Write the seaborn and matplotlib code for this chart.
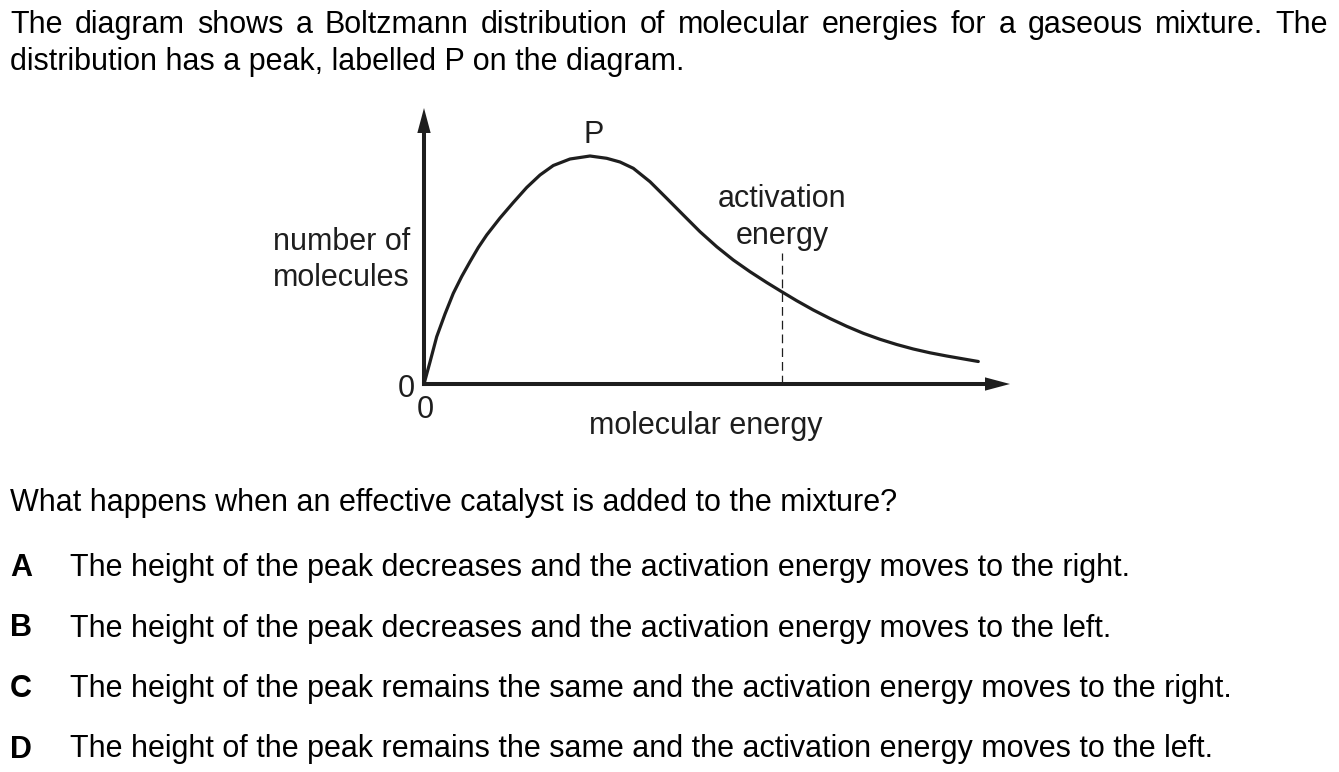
import numpy as np
import pandas as pd
import matplotlib
matplotlib.use('Agg')
import matplotlib.pyplot as plt
import seaborn as sns

# curve (energy / number of molecules, diagram pixel units)
energy = [0, 6.0, 12.7, 21.0, 29.3, 37.7, 46.0, 54.3, 62.7, 76.0, 89.3, 102.7,
          116.0, 129.3, 146.0, 166.0, 182.7, 196.0, 209.3, 226.0, 242.7, 259.3,
          276.0, 292.7, 309.3, 326.0, 342.7, 357.7, 372.7, 389.3, 406.0, 422.7,
          439.3, 456.0, 472.7, 489.3, 506.0, 522.7, 539.3, 554.3]
molecules = [0, 22.0, 47.3, 70.0, 90.7, 107.5, 122.3, 136.5, 149.0, 166.0, 181.5, 196.5,
             209.0, 218.5, 225.0, 228.0, 225.7, 222.0, 215.7, 202.3, 185.7, 169.0,
             152.3, 137.3, 124.0, 112.3, 101.5, 92.3, 83.3, 74.0, 65.5, 57.7,
             50.7, 44.7, 39.5, 35.0, 31.2, 28.0, 25.1, 22.5]
ea_energy = 357.7
ea_top = 131

header = ["The diagram shows a Boltzmann distribution of molecular energies for a gaseous mixture. The",
          "distribution has a peak, labelled P on the diagram."]
question = "What happens when an effective catalyst is added to the mixture?"
letters = ["A", "B", "C", "D"]
options = ["The height of the peak decreases and the activation energy moves to the right.",
           "The height of the peak decreases and the activation energy moves to the left.",
           "The height of the peak remains the same and the activation energy moves to the right.",
           "The height of the peak remains the same and the activation energy moves to the left."]

sns.set_theme(style='white')
plt.rcParams['font.family'] = ['Liberation Sans', 'DejaVu Sans']

W, H = 1339, 772
FS = 22
ink = '#1e1e1e'

fig = plt.figure(figsize=(W / 100, H / 100), dpi=100)
fig.patch.set_facecolor('white')


def fx(x):
    return x / W


def fy(y):
    return 1 - y / H


# diagram axes, 1 data unit = 1 pixel
ox, oy = 424, 384
xlen, ylen = 586, 276
ax = fig.add_axes([fx(ox), fy(oy), xlen / W, ylen / H])
ax.set_xlim(0, xlen)
ax.set_ylim(0, ylen)
ax.set_axis_off()

df = pd.DataFrame({'energy': energy, 'molecules': molecules})
sns.lineplot(data=df, x='energy', y='molecules', ax=ax, color=ink, lw=2.3,
             sort=False, clip_on=False, solid_joinstyle='round')
ax.plot([ea_energy, ea_energy], [0, ea_top], color=ink, lw=0.9,
        linestyle=(0, (7, 4)), clip_on=False)

# axes with arrowheads
head = 25
ax.plot([0, 0], [0, ylen - head], color=ink, lw=2.9, solid_capstyle='projecting', clip_on=False)
ax.plot([0, xlen - head], [0, 0], color=ink, lw=2.9, solid_capstyle='projecting', clip_on=False)
aprops = dict(arrowstyle='-|>,head_length=1.8,head_width=0.48', lw=0, color=ink,
              shrinkA=0, shrinkB=0, mutation_scale=10)
ax.annotate('', xy=(0, ylen), xytext=(0, ylen - head - 2), arrowprops=aprops, annotation_clip=False)
ax.annotate('', xy=(xlen, 0), xytext=(xlen - head - 2, 0), arrowprops=aprops, annotation_clip=False)

# diagram labels
fig.text(fx(594), fy(143), "P", fontsize=FS, ha='center', va='baseline', color=ink)
fig.text(fx(782), fy(207), "activation", fontsize=FS, ha='center', va='baseline', color=ink)
fig.text(fx(782), fy(244), "energy", fontsize=FS, ha='center', va='baseline', color=ink)
fig.text(fx(273), fy(250), "number of", fontsize=FS, ha='left', va='baseline', color=ink)
fig.text(fx(273), fy(286), "molecules", fontsize=FS, ha='left', va='baseline', color=ink)
fig.text(fx(706), fy(434), "molecular energy", fontsize=FS, ha='center', va='baseline', color=ink)
fig.text(fx(406), fy(397), "0", fontsize=FS, ha='center', va='baseline', color=ink)
fig.text(fx(425), fy(418), "0", fontsize=FS, ha='center', va='baseline', color=ink)

# header, first line justified across the page
renderer = fig.canvas.get_renderer()
words = header[0].split()
objs = [fig.text(0, fy(33), w, fontsize=FS, va='baseline', color='black') for w in words]
widths = [o.get_window_extent(renderer).width for o in objs]
gap = (1328 - 10 - sum(widths)) / (len(words) - 1)
x = 10
for o, w in zip(objs, widths):
    o.set_x(fx(x))
    x += w + gap
fig.text(fx(10), fy(70), header[1], fontsize=FS, va='baseline', color='black')

fig.text(fx(10), fy(511), question, fontsize=FS, va='baseline', color='black')
for i, (letter, opt) in enumerate(zip(letters, options)):
    y = 576 + i * 60.5
    fig.text(fx(10), fy(y), letter, fontsize=FS, fontweight='bold', va='baseline', color='black')
    fig.text(fx(70), fy(y), opt, fontsize=FS, va='baseline', color='black')

fig.savefig('out.png', dpi=100, facecolor='white')
